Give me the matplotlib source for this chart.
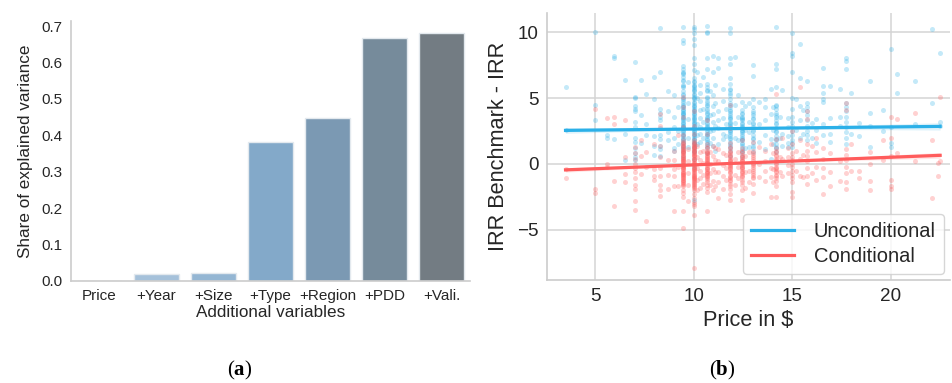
import numpy as np
import matplotlib
matplotlib.use("Agg")
import matplotlib.pyplot as plt

plt.rcParams['font.family'] = ['Liberation Sans', 'DejaVu Sans']
plt.rcParams['mathtext.fontset'] = 'custom'
plt.rcParams['mathtext.rm'] = 'Liberation Serif'
plt.rcParams['mathtext.bf'] = 'Liberation Serif:bold'

# ---------------- panel (a) data ----------------
variables = ["Price", "+Year", "+Size", "+Type", "+Region", "+PDD", "+Vali."]
explained_share = [0.0, 0.020, 0.021, 0.381, 0.448, 0.667, 0.680]
bar_colors = ["#b3cfe3", "#a5c1da", "#94b6d3", "#83a9c9", "#7b99b3", "#768b9b", "#737c83"]

# ---------------- panel (b) data ----------------
uncond_prices = [3.5, 5.0, 5.6, 5.95, 6.5, 7.0, 7.35, 7.6, 8.0, 8.3, 8.7, 9.0, 9.2, 9.45,
                 10.0, 10.3, 10.65, 11.0, 11.25, 11.5, 11.85, 12.1, 12.44, 12.8, 13.03,
                 13.6, 13.9, 14.2, 14.5, 14.8, 15.0, 15.4, 15.75, 16.2, 16.55, 16.9, 17.4,
                 17.75, 18.0, 18.4, 18.95, 19.6, 20.0, 20.3, 21.2, 22.1, 22.5,
                 9.7, 10.15, 10.45, 10.85, 11.1, 11.65, 12.25, 12.6, 13.3, 14.0, 14.4,
                 15.2, 15.55, 16.0]
uncond_gaps = [
    [5.8, 2.6],
    [10.0, 4.5, 3.3],
    [2.2, 2.0],
    [8.2, 8.0, 1.9],
    [6.4, 0.3, 2.3],
    [7.7, 5.1, 5.0, 4.4, 4.2, 4.0, 3.2, 2.8, 2.0, 1.7, 1.2, 0.8, 0.5, 0.3],
    [6.4, 3.7, 1.6],
    [3.0, 2.2, 5.3],
    [6.6, 4.9, 2.1, 1.4, 0.7],
    [10.3, 7.0, 4.2, 3.9, 3.6, 3.3, 2.7, 2.2, 1.9, 1.4, 1.1, 0.6],
    [4.0, 2.4, 1.8, 5.5],
    [3.6, 1.2, 1.0, 2.0, 2.8, 5.2],
    [4.3, 2.5, 1.5],
    [10.4, 9.4, 9.2, 7.4, 7.2, 7.0, 6.8, 6.6, 6.3, 6.0, 5.8, 5.5, 5.2, 5.0, 4.8, 4.5, 4.3,
     4.1, 3.9, 3.7, 3.5, 3.3, 3.1, 2.9, 2.7, 2.5, 2.3, 2.1, 1.9, 1.7, 1.4, 1.1, 0.9, 0.5,
     6.9, 6.4, 5.9, 5.3, 4.9, 4.4, 4.0, 3.6, 3.2, 2.8, 2.4, 2.0, 1.6, 3.0, 3.8, 4.6,
     4.2, 3.4, 2.6, 2.2, 1.8, 1.3, 3.9, 2.9],
    [10.4, 10.2, 9.9, 9.5, 9.0, 8.0, 7.6, 7.1, 6.5, 6.2, 6.0, 5.8, 5.6, 5.3, 5.1, 4.9, 4.6,
     4.4, 4.2, 4.0, 3.8, 3.6, 3.4, 3.2, 3.0, 2.8, 2.6, 2.4, 2.2, 1.9, 1.6, 1.2, 0.9, 0.4,
     -0.2, -2.7, 6.3, 5.9, 5.5, 5.0, 4.5, 4.1, 3.7, 3.3, 2.9, 2.5, 2.1, 1.7, 1.3, 3.5, 4.3,
     5.2, 2.0, 1.0, 4.7, 3.9, 3.1, 2.7, 2.3, 1.8, 1.5, 5.7],
    [6.0, 5.4, 4.8, 4.1, 3.5, 2.8, 2.3, 1.7],
    [10.5, 10.0, 9.9, 8.0, 7.2, 6.1, 5.8, 5.5, 5.1, 4.8, 4.5, 4.2, 3.9, 3.6, 3.4, 3.1, 2.9,
     2.6, 2.4, 2.1, 1.8, 1.5, 1.2, 0.8, 5.6, 5.0, 4.4, 3.8, 3.3, 2.8, 2.3, 1.9, 1.4, 3.0, 4.0,
     4.6, 3.5, 2.7, 2.2, 1.7],
    [8.2, 7.0, 5.2, 4.4, 3.8, 3.2, 2.6, 2.0, 1.4],
    [8.0, 7.3, 4.0, 3.3, 2.7, 1.5],
    [5.7, 4.8, 3.5, 2.3, 1.9],
    [10.3, 9.9, 8.0, 7.6, 6.5, 6.1, 5.7, 5.6, 5.2, 4.9, 4.6, 4.3, 4.0, 3.7, 3.5, 3.2, 3.0,
     2.8, 2.5, 2.3, 2.0, 1.7, 1.4, 1.0, 0.6, 4.5, 3.9, 3.4, 2.9, 2.4, 1.9, 1.5, 5.4, 3.1,
     4.1, 3.6, 2.6, 2.1, 1.2],
    [8.1, 4.5, 3.1, 2.0],
    [4.7, 4.1, 3.9, 3.6, 3.4, 3.1, 2.9, 2.7, 2.5, 2.3, 2.1, 1.9, 1.6, 1.4, 1.1, 0.8, 0.5,
     3.8, 3.3, 2.8, 2.4, 2.0, 1.5, 1.0, 3.0, 3.5, 2.6, 1.8],
    [4.6, 3.2, 2.4, 1.3],
    [7.5, 6.7, 4.9, 4.3, 4.0, 3.7, 3.4, 3.1, 2.8, 2.5, 2.2, 1.9, 1.6, 1.2, 0.9,
     3.5, 3.0, 2.6, 2.0, 1.4, 3.9],
    [4.9, 4.3, 3.3, 2.2, 1.1],
    [5.7, 3.8, 1.9, 0.4],
    [10.4, 7.6, 7.2, 5.8, 4.5, 4.2, 3.9, 3.6, 3.3, 3.0, 2.7, 2.4, 2.1, 1.8, 1.5, 1.2, 0.9,
     3.7, 3.1, 2.5, 1.9, 1.3, 4.4],
    [5.6, 2.3, 1.4],
    [3.5, 2.8, 2.1, 1.6, 1.3],
    [9.9, 8.4, 8.2, 7.0, 5.0, 4.2, 3.2, 2.5, 1.8, 1.3, 2.2, 1.6, 2.9, 3.6],
    [9.1, 6.5, 4.4, 3.3, 2.0],
    [6.3, 4.6, 4.3, 4.0, 3.7, 3.3, 2.9, 2.5, 2.2, 1.8],
    [3.4, 2.6, 1.6],
    [7.3, 5.9, 5.4, 4.9, 4.7, 3.0, 2.2],
    [5.9, 3.5, 2.3, 1.7],
    [5.7, 3.6, 2.9],
    [8.0, 7.8, 7.2, 4.6, 4.3, 4.0, 3.6, 3.2, 2.8, 2.4, 2.0, 1.5],
    [5.4, 2.3],
    [2.1, 3.1],
    [6.3, 3.9, 2.9, 1.3],
    [4.1, 2.5],
    [8.7, 2.8, 1.6, 1.3],
    [6.8, 5.4],
    [6.3, 3.0],
    [4.6, 10.2],
    [8.4, 3.2, 2.9],
    [4.6, 3.4, 2.0, 6.2, 1.3],
    [7.0, 5.0, 3.0, 2.2, 1.5],
    [6.6, 4.2, 3.2, 2.0],
    [5.5, 3.7, 2.5, 1.6],
    [6.0, 4.6, 2.9, 1.0],
    [4.2, 3.0, 2.1],
    [5.2, 3.6, 1.8],
    [4.4, 2.6, 1.2],
    [4.7, 3.0, 1.7],
    [4.3, 2.6, 1.5],
    [3.6, 2.0],
    [4.9, 2.6],
    [4.1, 2.3],
    [3.1, 2.0],
]

cond_prices = [3.5, 5.0, 5.6, 5.95, 6.5, 7.0, 7.35, 7.6, 8.0, 8.3, 8.7, 9.0, 9.2, 9.45,
               10.0, 10.3, 10.65, 11.0, 11.25, 11.5, 11.85, 12.1, 12.44, 12.8, 13.03,
               13.6, 13.9, 14.2, 14.5, 14.8, 15.0, 15.4, 15.75, 16.2, 16.55, 16.9, 17.4,
               17.75, 18.0, 18.4, 18.95, 19.6, 20.0, 20.3, 21.2, 22.1, 22.4, 22.5,
               9.7, 10.15, 10.45, 10.85, 11.1, 11.65, 12.25, 12.6, 13.3, 14.0, 14.4,
               15.2, 15.55, 16.0]
cond_gaps = [
    [-1.1, -0.4],
    [4.2, -1.9, -2.2],
    [0.0, -0.2, 3.5],
    [3.6, 3.05, -1.3, -3.2],
    [3.3, -0.75, -1.4, 0.5],
    [1.3, 0.8, 0.4, 0.0, -0.3, -0.6, -1.1, -1.6, -1.9, -2.8, -3.5],
    [-0.75, 0.6, 1.8],
    [-4.3, -0.2, 0.9],
    [-0.4, -0.9, -1.2, 1.5],
    [3.8, 2.9, 1.4, 0.5, -0.3, -0.9, -1.6, -2.0, -2.4],
    [-0.8, 0.3, -1.9],
    [0.3, -0.4, -0.9, -1.7, -3.6, 1.0],
    [-1.7, 2.2, -0.2],
    [5.1, 4.3, 3.6, 2.8, 1.8, 1.6, 1.4, 1.2, 1.0, 0.8, 0.6, 0.4, 0.2, 0.0, -0.2, -0.4,
     -0.6, -0.8, -1.0, -1.2, -1.4, -1.7, -2.5, -3.6, -4.85,
     1.5, 1.3, 1.1, 0.9, 0.7, 0.5, 0.3, 0.1, -0.1, -0.3, -0.5, -0.7, -0.9, -1.1, -1.3,
     -1.5, -0.05, 0.45, 0.95, -0.65, -1.05, 0.25, -0.35, 1.7, -1.6, -2.0, -2.2, 2.2,
     1.45, 1.05, 0.65, 0.15, -0.25, -0.75, -1.25, -1.45, 0.85, -0.85, 0.35, -0.15],
    [4.0, 2.9, 1.8, 1.6, 1.4, 1.2, 1.0, 0.8, 0.6, 0.4, 0.2, 0.0, -0.2, -0.4, -0.6, -0.8,
     -1.0, -1.2, -1.4, -1.6, -1.95, -2.3, -2.9, -3.2, -3.9, -7.9,
     1.7, 1.5, 1.3, 1.1, 0.9, 0.7, 0.5, 0.3, 0.1, -0.1, -0.3, -0.5, -0.7, -0.9, -1.1,
     -1.3, -1.5, -1.7, -1.85, 0.05, 0.65, -0.45, -1.05, 1.25, -2.6, 2.3, -3.0,
     1.45, 1.05, 0.75, 0.35, -0.05, -0.35, -0.75, -1.15, -1.45, -1.75, 0.95, -0.95],
    [0.9, 0.3, -0.5, -1.1, -1.8],
    [3.3, 2.3, 1.5, 1.2, 0.9, 0.7, 0.5, 0.3, 0.1, -0.1, -0.3, -0.5, -0.7, -0.9, -1.2,
     -1.6, -2.1, -3.6, 1.0, 0.8, 0.6, 0.4, 0.2, 0.0, -0.2, -0.4, -0.6, -0.8, -1.0, -1.4,
     1.3, -1.8, 0.15, 0.85, 0.45, 0.05, -0.35, -0.65, -1.05],
    [0.6, -0.4, -1.3, -2.0, 1.4],
    [1.1, 0.2, -0.6, -1.4, -2.6],
    [0.8, -0.1, -0.9, -1.9],
    [4.5, 2.7, 1.6, 1.3, 1.0, 0.8, 0.5, 0.3, 0.1, -0.1, -0.3, -0.6, -0.9, -1.2, -1.5,
     -1.9, -2.3, -2.7, 1.2, 0.9, 0.6, 0.4, 0.2, 0.0, -0.2, -0.4, -0.7, -1.0, -1.3, -1.7,
     0.7, 0.25, -0.15, -0.55, -1.1],
    [0.4, -0.8, -1.6],
    [1.8, 1.2, 0.9, 0.6, 0.4, 0.2, 0.0, -0.2, -0.4, -0.6, -0.9, -1.2, -1.6, -2.0, -2.7,
     1.0, 0.7, 0.5, 0.3, 0.1, -0.1, -0.3, -0.5, -0.8, -1.0, -1.4, 0.25, -0.25, -0.7],
    [0.9, -0.5, -1.4],
    [1.7, 1.0, 0.7, 0.4, 0.1, -0.2, -0.5, -0.8, -1.1, -1.5, -2.2,
     0.8, 0.5, 0.2, -0.1, -0.4, -0.7, -1.0, 0.0],
    [1.0, 0.2, -0.5, -1.3],
    [1.5, -0.3, -1.0, -2.5],
    [5.3, 1.9, 1.2, 0.9, 0.6, 0.3, 0.0, -0.3, -0.6, -0.9, -1.3, -1.7, -2.5,
     1.0, 0.7, 0.4, 0.1, -0.2, -0.5, -0.8, -1.1, 0.25, -0.35],
    [2.0, 0.4, -0.9],
    [1.2, 0.5, -0.1, -0.7],
    [2.5, 1.5, 0.8, 0.3, -0.2, -0.8, -1.4, -2.1, -2.5, 0.5, 0.0, -0.5, -1.1],
    [5.8, 1.8, 0.4, -0.9],
    [4.0, 3.4, 1.5, 1.0, 0.6, 0.2, -0.3, -0.9, -1.5],
    [2.0, 0.9, -0.2, -1.2],
    [1.2, 0.4, -0.3, -1.0, -2.3],
    [-0.6, 0.8, -1.7],
    [0.2, -1.3],
    [4.6, 4.1, 1.1, 0.7, 0.3, -0.2, -0.7, -1.4, -1.9],
    [-0.5, 1.5],
    [-0.5, -1.1],
    [0.0, -1.3, 0.9, -2.0],
    [1.85, 0.33],
    [3.6, 2.0, 0.6, -1.2, -1.7, -1.9],
    [3.4, 0.8],
    [3.9, 0.2],
    [-2.6, 1.8],
    [-0.9, 0.1],
    [5.1, 0.2],
    [1.1, 0.2, -0.7, -1.6, -2.8],
    [1.4, 0.5, -0.3, -1.2, -2.0],
    [1.0, 0.1, -0.8, -1.5],
    [0.9, 0.0, -0.7, -1.6],
    [1.2, 0.3, -0.6, -1.7],
    [0.7, -0.3, -1.2],
    [0.9, -0.2, -1.1],
    [0.6, -0.6, -1.8],
    [1.3, 0.0, -1.0],
    [0.8, -0.4, -1.4],
    [0.5, -0.6],
    [1.0, -0.5],
    [0.7, -1.0],
    [1.4, -0.7],
]

# fitted regression lines: (intercept, slope)
uncond_fit = (2.49, 0.016)
cond_fit = (-0.65, 0.058)
# approximate half-width of the confidence band (centre, far end)
uncond_ci = (0.06, 0.28)
cond_ci = (0.05, 0.22)

series_names = ["Unconditional", "Conditional"]
blue = "#2bb0e8"
red = "#ff5c5c"

# ---------------- figure ----------------
fig = plt.figure(figsize=(9.53, 3.83), dpi=100)
ax1 = fig.add_axes([71/953, 1 - 281/383, (470 - 71)/953, (281 - 21)/383])
ax2 = fig.add_axes([547/953, 1 - 280/383, (950 - 547)/953, (280 - 13)/383])

# panel (a)
xpos = np.arange(len(variables))
ax1.bar(xpos, explained_share, width=0.8, color=bar_colors, edgecolor="#e3e9ee", linewidth=1.0)
ax1.set_xlim(-0.5, 6.5)
ax1.set_ylim(0, 0.714)
ax1.set_xticks(xpos)
ax1.set_xticklabels(variables, fontsize=11, color="#262626")
yt = np.arange(0, 0.71, 0.1)
ax1.set_yticks(yt)
ax1.set_yticklabels([f"{v:.1f}" for v in yt], fontsize=11, color="#262626")
ax1.tick_params(length=0, pad=6)
ax1.set_ylabel("Share of explained variance", fontsize=12.3, color="#262626", labelpad=6)
ax1.set_xlabel("Additional variables", fontsize=12.3, color="#262626", labelpad=1)
for s in ["top", "right"]:
    ax1.spines[s].set_visible(False)
for s in ["left", "bottom"]:
    ax1.spines[s].set_color("#cccccc")
    ax1.spines[s].set_linewidth(1.2)

# panel (b)
def flatten(prices, gaps):
    xs, ys = [], []
    for p, g in zip(prices, gaps):
        xs.extend([p] * len(g))
        ys.extend(g)
    return np.array(xs), np.array(ys)

ux, uy = flatten(uncond_prices, uncond_gaps)
cx, cy = flatten(cond_prices, cond_gaps)

ax2.set_axisbelow(True)
ax2.grid(True, color="#d4d4d4", linewidth=1.1)

def draw_fit(x, fit, ci, color, label):
    xs = np.linspace(x.min(), x.max(), 100)
    ys = fit[0] + fit[1] * xs
    xc = x.mean()
    span = max(x.max() - xc, xc - x.min())
    hw = np.sqrt(ci[0] ** 2 + (ci[1] ** 2 - ci[0] ** 2) * ((xs - xc) / span) ** 2)
    ax2.fill_between(xs, ys - hw, ys + hw, color=color, alpha=0.15, linewidth=0)
    ax2.plot(xs, ys, color=color, linewidth=2.3, label=label)

ax2.scatter(ux, uy, s=13, color=blue, alpha=0.28, linewidths=0)
draw_fit(ux, uncond_fit, uncond_ci, blue, series_names[0])
ax2.scatter(cx, cy, s=13, color=red, alpha=0.28, linewidths=0)
draw_fit(cx, cond_fit, cond_ci, red, series_names[1])

ax2.set_xlim(2.56, 23.0)
ax2.set_ylim(-8.8, 11.45)
ax2.set_xticks([5, 10, 15, 20])
ax2.set_yticks([-5, 0, 5, 10])
ax2.set_yticklabels(["\u22125", "0", "5", "10"])
ax2.tick_params(length=0, labelsize=13.6, colors="#262626", pad=6)
ax2.set_xlabel("Price in $", fontsize=15.7, color="#262626", labelpad=3)
ax2.set_ylabel("IRR Benchmark - IRR", fontsize=15.7, color="#262626", labelpad=6)
for s in ["top", "right"]:
    ax2.spines[s].set_visible(False)
for s in ["left", "bottom"]:
    ax2.spines[s].set_color("#cccccc")
    ax2.spines[s].set_linewidth(1.2)

leg = ax2.legend(loc="lower right", fontsize=14.5, frameon=True, handlelength=2.1,
                 borderaxespad=0.3, labelspacing=0.3, handletextpad=1.0)
leg.get_frame().set_edgecolor("#cccccc")
leg.get_frame().set_linewidth(1.0)
for t in leg.get_texts():
    t.set_color("#262626")

# sub-figure labels
fig.text(240/953, 1 - 370/383, r"($\mathbf{a}$)", ha="center", va="center",
         fontsize=15, family="Liberation Serif")
fig.text(722/953, 1 - 370/383, r"($\mathbf{b}$)", ha="center", va="center",
         fontsize=15, family="Liberation Serif")

fig.savefig("out.png", dpi=100)
